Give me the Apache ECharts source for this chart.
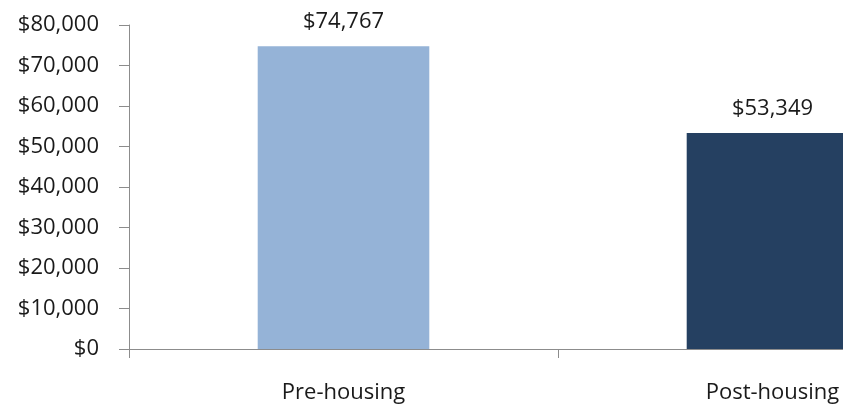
<!DOCTYPE html>
<html>
<head>
<meta charset="utf-8">
<title>Pre- vs post-housing</title>
<script src="https://cdn.jsdelivr.net/npm/echarts@6/dist/echarts.min.js"></script>
<style>
  html, body { margin: 0; padding: 0; background: #fff; overflow: hidden; width: 843px; height: 404px; }
  /* The plot is wider than the window; its right part runs past the edge. */
  #chart { width: 987px; height: 404px; }
</style>
</head>
<body>
<div id="chart"></div>
<script>
// Categories and values
const categories = ['Pre-housing', 'Post-housing'];
const values = [74767, 53349];
const barColors = ['#95B3D7', '#254061'];

// Y axis range
const yMin = 0;
const yMax = 80000;
const yStep = 10000;

const fontFamily = '"Open Sans", "Noto Sans", sans-serif';
const axisGray = '#8c8c8c';
const textColor = '#1a1a1a';

function money(v) {
  return '$' + Math.round(v).toString().replace(/\B(?=(\d{3})+(?!\d))/g, ',');
}

const chart = echarts.init(document.getElementById('chart'), null, { renderer: 'canvas' });

chart.setOption({
  animation: false,
  backgroundColor: '#ffffff',
  grid: { left: 129, right: 0, top: 25, bottom: 54, containLabel: false },
  xAxis: {
    type: 'category',
    data: categories,
    boundaryGap: true,
    axisLine: { show: true, lineStyle: { color: axisGray, width: 1 } },
    axisTick: { show: true, alignWithLabel: false, length: 9, lineStyle: { color: axisGray } },
    axisLabel: { color: textColor, fontFamily: fontFamily, fontSize: 22, margin: 33 },
    splitLine: { show: false }
  },
  yAxis: {
    type: 'value',
    min: yMin,
    max: yMax,
    interval: yStep,
    axisLine: { show: true, lineStyle: { color: axisGray, width: 1 } },
    axisTick: { show: true, inside: false, length: 10, lineStyle: { color: axisGray } },
    axisLabel: { color: textColor, fontFamily: fontFamily, fontSize: 22, margin: 30, formatter: money },
    splitLine: { show: false }
  },
  series: [{
    type: 'bar',
    barWidth: '40%',
    data: values.map((v, i) => ({ value: v, itemStyle: { color: barColors[i] } })),
    label: {
      show: true,
      position: 'top',
      distance: 13,
      color: textColor,
      fontFamily: fontFamily,
      fontSize: 22,
      formatter: p => money(p.value)
    }
  }]
});
</script>
</body>
</html>
